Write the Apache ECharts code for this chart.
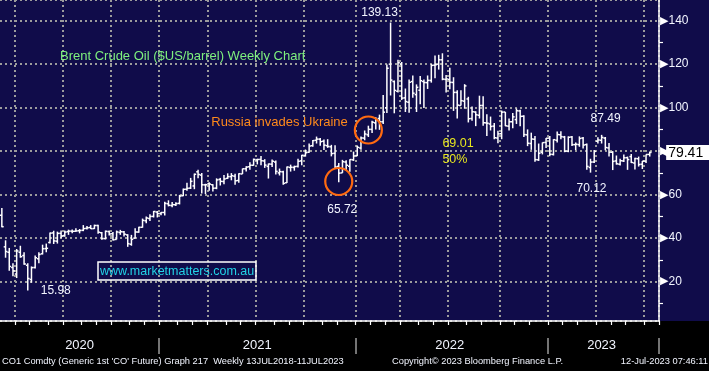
<!DOCTYPE html>
<html><head><meta charset="utf-8">
<script src="https://cdn.jsdelivr.net/npm/echarts@6/dist/echarts.min.js"></script>
<style>html,body{margin:0;padding:0;background:#000}#c{width:709px;height:371px}</style>
</head><body><div id="c"></div>
<script>
// ---- data: Brent CO1 weekly OHLC, weeks ending Fri from 2020-03-06 ----
const startDate = '2020-03-06';
const weekCount = 178;           // categories (2 empty weeks after last bar)
const years = [2020, 2021, 2022, 2023];

const open = [50.5,36.0,33.5,26.5,23.5,33.5,32.0,27.5,21.0,26.5,30.5,32.8,35.2,38.0,42.4,38.6,42.2,41.2,43.0,43.2,43.2,43.4,43.6,44.5,44.9,44.4,45.8,42.5,39.8,43.0,42.0,39.4,42.6,42.9,41.5,37.2,40.0,42.8,45.0,48.0,49.0,50.0,52.0,
51.3,51.8,55.8,55.0,55.3,56.0,59.5,62.5,63.0,64.0,70.5,69.0,64.5,65.0,64.5,63.0,67.0,66.0,67.5,68.3,68.5,66.5,69.5,71.9,72.8,73.5,76.0,76.2,75.5,73.0,74.0,75.0,70.0,70.5,65.5,72.5,72.5,73.0,75.5,78.0,79.5,82.5,85.0,85.5,84.5,82.5,82.0,79.0,73.0,70.0,75.0,73.0,76.0,
78.0,81.5,86.0,87.5,90.0,93.0,95.0,93.5,100.0,120.0,112.0,107.5,120.0,104.5,102.5,112.0,106.0,108.0,112.0,111.5,112.5,119.5,120.0,122.0,113.0,113.0,111.6,107.0,101.0,103.0,104.0,95.0,98.0,96.5,101.0,93.0,92.5,91.5,86.0,88.0,98.0,91.5,93.5,94.5,98.5,96.0,87.5,83.5,85.5,76.0,79.5,84.0,
86.0,78.5,85.0,87.5,86.5,80.0,86.5,83.0,83.0,86.0,83.0,72.5,75.0,84.5,85.0,86.0,81.5,79.5,75.5,74.0,75.5,77.0,77.5,74.5,76.5,74.0,75.4,78.5];

const high = [53.9,39.0,35.5,28.5,35.0,36.5,33.5,28.5,27.0,32.0,33.5,37.0,37.5,42.6,43.4,43.0,43.5,43.5,43.9,44.0,44.6,44.2,46.0,45.6,46.0,46.2,46.2,42.8,43.5,43.5,42.8,43.5,43.8,43.3,41.8,41.5,44.5,45.2,49.0,49.9,51.0,52.5,52.5,
52.0,56.7,57.4,56.6,56.5,59.9,62.8,65.5,67.7,69.7,71.4,70.0,65.0,65.7,64.8,67.5,67.7,69.0,69.8,69.9,69.6,69.8,72.0,73.1,74.9,76.6,76.5,77.8,76.3,74.3,76.2,75.7,72.0,71.0,72.9,73.8,73.3,76.5,78.3,80.75,83.5,85.1,86.7,86.1,85.3,85.5,82.9,82.7,74.5,76.0,75.8,76.3,79.8,
82.6,86.7,89.5,91.7,94.0,95.6,96.8,105.8,119.8,139.13,112.5,122.0,121.0,108.8,113.0,114.8,110.7,114.5,113.0,114.8,120.0,124.0,124.3,125.0,115.0,118.3,114.0,108.0,108.0,110.8,105.0,100.5,98.3,105.5,105.3,97.0,95.9,93.0,89.4,98.7,98.0,95.0,97.5,99.6,99.0,96.5,90.0,88.5,87.0,83.5,84.0,86.0,
87.0,85.5,89.0,89.1,87.0,86.8,87.0,84.0,86.8,86.5,83.5,76.5,80.5,86.4,87.49,86.5,83.7,80.0,78.0,76.5,78.5,77.5,78.7,77.0,77.5,75.5,78.5,79.8];

const low = [45.0,31.0,25.0,22.5,21.65,31.0,27.8,15.98,19.5,26.0,28.5,32.5,33.5,37.5,37.3,37.5,40.0,40.6,41.5,42.3,42.9,42.2,43.2,44.0,44.2,44.2,42.0,39.3,39.4,41.2,38.9,39.4,41.5,40.8,36.0,36.5,39.8,42.5,44.8,46.9,47.9,49.5,49.5,
50.5,50.4,54.6,54.2,54.8,55.5,59.3,61.8,62.6,62.5,67.5,60.5,60.3,61.8,61.5,62.5,64.2,64.8,67.2,66.6,64.6,65.5,69.5,70.6,71.5,73.3,73.9,73.5,72.3,67.4,72.7,69.3,68.8,64.6,65.3,70.6,71.0,72.5,73.5,77.5,79.3,82.0,83.5,82.5,80.5,81.5,77.6,72.2,65.72,70.0,71.2,70.5,75.5,
77.7,80.6,85.0,86.5,88.3,90.0,89.8,92.5,97.5,105.6,97.4,107.0,103.5,98.0,97.6,104.5,98.0,101.6,99.8,108.6,111.5,113.5,117.5,112.6,107.0,108.5,98.5,95.0,101.0,99.5,93.2,94.0,91.5,95.0,91.7,87.0,89.5,85.5,83.6,85.5,91.5,89.5,90.5,92.5,91.5,86.5,82.3,80.6,75.1,75.5,78.5,81.5,
77.6,78.0,84.0,85.5,79.5,79.5,82.4,80.5,82.0,81.2,71.4,70.12,74.5,83.5,83.5,80.4,77.5,71.3,73.8,73.4,75.0,71.4,74.6,71.6,72.9,71.8,74.5,77.5];

const close = [45.27,33.85,26.98,24.93,34.11,31.48,28.08,21.44,26.44,30.97,32.50,35.13,35.33,42.30,38.73,42.19,41.02,42.80,43.24,43.14,43.34,43.52,44.40,44.80,44.35,45.81,42.66,39.83,43.15,41.92,39.27,42.85,42.93,41.77,37.46,39.45,42.78,44.96,48.18,49.25,49.97,52.26,51.29,
51.80,55.99,55.10,55.41,55.88,59.34,62.43,62.91,66.13,69.36,69.22,64.53,64.57,64.86,62.95,66.77,66.11,67.25,68.28,68.71,66.44,69.63,71.89,72.69,73.51,76.18,76.17,75.55,73.59,74.10,75.41,70.70,70.59,65.18,72.70,72.61,72.92,75.34,78.09,79.28,82.39,84.86,85.53,84.38,82.74,82.17,78.89,72.72,69.88,75.15,73.52,76.14,77.78,
81.75,86.06,87.89,90.03,93.27,94.44,93.54,97.93,118.11,112.67,107.93,120.65,104.39,102.78,111.70,106.65,109.34,112.39,111.55,112.55,119.43,119.72,122.01,113.12,113.12,111.63,107.02,101.16,103.20,110.01,94.92,98.15,96.72,100.99,93.02,92.84,91.35,86.15,87.96,97.92,91.63,93.50,95.77,98.57,95.99,87.62,83.63,85.57,76.10,79.04,83.92,85.91,
78.57,85.28,87.63,86.66,79.94,86.39,83.00,83.16,85.83,82.78,72.97,74.99,79.89,85.12,86.31,81.66,79.54,75.30,74.17,75.58,76.95,76.13,74.79,76.61,73.85,75.41,78.47,79.41];

// annotation anchors (category index, value)
const peakIdx = 105, covidLowIdx = 7, dec21LowIdx = 91, apr23HighIdx = 162, mar23LowIdx = 159;
const circleMarks = [[99, 89.72], [91, 66.04]];
const russiaText = 'Russia invades Ukraine';
const russiaAnchor = [75, 93.4];
const retraceText = ['69.01', '50%'];
const retraceAnchor = [119, 79.9];

const titleText = 'Brent Crude Oil ($US/barrel) Weekly Chart';
const siteText = 'www.marketmatters.com.au';
const footerLeft = "CO1 Comdty (Generic 1st 'CO' Future) Graph 217  Weekly 13JUL2018-11JUL2023";
const footerMid = 'Copyright\u00a9 2023 Bloomberg Finance L.P.';
const footerRight = '12-Jul-2023 07:46:11';

// ---- build ----
const dates = [];
(function(){ const t0 = Date.parse(startDate + 'T00:00:00Z');
  for (let i = 0; i < weekCount; i++) dates.push(new Date(t0 + i * 7 * 864e5).toISOString().slice(0, 10)); })();
const mon = i => +dates[i].slice(5, 7);
const yr = i => +dates[i].slice(0, 4);
const monthStart = i => i > 0 && mon(i) !== mon(i - 1);
const quarterStart = i => monthStart(i) && (mon(i) - 1) % 3 === 0;
const yearStart = i => monthStart(i) && mon(i) === 1;
const yearLabelAt = {};
years.forEach(y => {
  const idx = dates.map((d, i) => i).filter(i => yr(i) === y);
  yearLabelAt[dates[idx[Math.floor((idx.length - 1) / 2)]]] = String(y);
});

const ohlc = open.map((o, i) => [i, o, high[i], low[i], close[i]]);
const last = close[close.length - 1];
const FONT = 'Liberation Sans';
const WHITE = '#f2f5ff';
const gridLine = { color: '#9c9c9c', width: 2, type: [2, 3] };

function textMark(coord, text, offset, color, size, extra) {
  return Object.assign({ coord: coord, symbol: 'circle', symbolSize: 1, itemStyle: { color: 'rgba(0,0,0,0)' },
    label: Object.assign({ show: true, position: 'inside', offset: offset, formatter: text, color: color,
      fontSize: size, fontFamily: FONT }, extra || {}) });
}

const markPoints = [
  textMark([peakIdx, high[peakIdx]], high[peakIdx].toFixed(2), [-11, -10], WHITE, 12),
  textMark([dec21LowIdx, low[dec21LowIdx]], low[dec21LowIdx].toFixed(2), [3.5, 27], WHITE, 12),
  textMark([covidLowIdx, low[covidLowIdx]], low[covidLowIdx].toFixed(2), [28, 0], WHITE, 12),
  textMark([apr23HighIdx, high[apr23HighIdx]], high[apr23HighIdx].toFixed(2), [4, -16], WHITE, 12),
  textMark([mar23LowIdx, low[mar23LowIdx]], low[mar23LowIdx].toFixed(2), [1, 16.5], WHITE, 12),
  textMark(russiaAnchor, russiaText, [0, 0], '#ff8a1c', 13),
  textMark(retraceAnchor, retraceText.join('\n'), [0, 0], '#e6e61e', 12.5, { align: 'left', lineHeight: 15.5 }),
  // last-price tag, anchored at the last category slot and pushed onto the price axis
  textMark([weekCount - 1, last], '{a|\u25C0}{b|' + last.toFixed(2) + '}', [3, 0], '#000', 14, {
    align: 'left', verticalAlign: 'middle',
    rich: { a: { color: '#ffffff', fontSize: 16, fontFamily: 'DejaVu Sans', lineHeight: 14, width: 6 },
            b: { backgroundColor: '#ffffff', color: '#000000', fontSize: 14, fontFamily: FONT, padding: [1, 9, 0, 2], lineHeight: 14 } } })
].concat(circleMarks.map(c => ({ coord: c, symbol: 'circle', symbolSize: 27, label: { show: false },
  itemStyle: { color: 'rgba(0,0,0,0)', borderColor: '#ff6a10', borderWidth: 2.2 } })));

const chart = echarts.init(document.getElementById('c'));
chart.setOption({
  animation: false,
  backgroundColor: '#100c4a',
  graphic: [{ type: 'rect', left: 0, top: 321, shape: { width: 709, height: 50 }, style: { fill: '#000' }, z: -10, silent: true }],
  title: [
    { text: titleText, left: 60, top: 50, padding: 0, textStyle: { color: '#7ef07e', fontSize: 13, fontWeight: 'normal', fontFamily: FONT } },
    { text: siteText, left: 98, top: 262, padding: [3, 2, 2, 2], borderColor: '#ffffff', borderWidth: 1.5,
      textStyle: { color: '#22d3e6', fontSize: 12.5, fontWeight: 'normal', fontFamily: FONT } },
    { text: footerLeft, left: 2, top: 357, padding: 0, textStyle: { color: WHITE, fontSize: 9.3, fontWeight: 'normal', fontFamily: FONT } },
    { text: footerMid, left: 392, top: 357, padding: 0, textStyle: { color: WHITE, fontSize: 9.3, fontWeight: 'normal', fontFamily: FONT } },
    { text: footerRight, right: 1, top: 357, padding: 0, textStyle: { color: WHITE, fontSize: 9.3, fontWeight: 'normal', fontFamily: FONT } }
  ],
  grid: { left: -2, right: 50, top: 0, bottom: 50, show: true, backgroundColor: '#100c4a', borderWidth: 0 },
  xAxis: [
    { type: 'category', data: dates, boundaryGap: true, position: 'bottom',
      axisLine: { show: true, onZero: false, lineStyle: { color: '#ffffff', width: 1.5 } },
      axisTick: { show: true, interval: i => monthStart(i), length: 4, lineStyle: { color: '#ffffff', width: 1.2 } },
      axisLabel: { show: true, interval: i => yearLabelAt[dates[i]] !== undefined, formatter: v => yearLabelAt[v] || '',
        color: WHITE, fontSize: 13, fontFamily: FONT, margin: 18 },
      splitLine: { show: true, interval: i => quarterStart(i), lineStyle: gridLine } },
    { type: 'category', data: dates, boundaryGap: true, position: 'bottom', offset: 33,
      axisLine: { show: false },
      axisTick: { show: true, inside: true, interval: i => yearStart(i), length: 16, lineStyle: { color: '#9a9a9a', width: 1.5 } },
      axisLabel: { show: false }, splitLine: { show: false } }
  ],
  yAxis: {
    type: 'value', position: 'right', min: 1.9, max: 149.5, splitNumber: 7,
    axisLine: { show: true, lineStyle: { color: '#ffffff', width: 1.5 } },
    axisTick: { show: false },
    minorTick: { show: true, splitNumber: 2, length: 4, lineStyle: { color: '#ffffff', width: 1.2 } },
    splitLine: { show: true, lineStyle: gridLine },
    axisLabel: { margin: 1, showMinLabel: false, showMaxLabel: false,
      formatter: v => (Math.abs(v % 20) < 1e-6 ? '{a|\u25B6}{b|' + v + '}' : ''),
      rich: { a: { color: '#ffffff', fontSize: 11, fontFamily: 'DejaVu Sans', padding: [0, 0, 0, 0] },
              b: { color: WHITE, fontSize: 12, fontFamily: FONT } } }
  },
  series: [
    { type: 'custom', name: 'CO1', data: ohlc, encode: { x: 0, y: [1, 2, 3, 4] }, clip: true,
      renderItem: function (params, api) {
        const x = api.value(0);
        const o = api.coord([x, api.value(1)]), h = api.coord([x, api.value(2)]);
        const l = api.coord([x, api.value(3)]), c = api.coord([x, api.value(4)]);
        const t = api.size([1, 0])[0] * 0.5;
        const st = { stroke: '#ffffff', lineWidth: 1.5 };
        return { type: 'group', children: [
          { type: 'line', shape: { x1: h[0], y1: h[1], x2: l[0], y2: l[1] }, style: st },
          { type: 'line', shape: { x1: o[0] - t, y1: o[1], x2: o[0], y2: o[1] }, style: st },
          { type: 'line', shape: { x1: c[0], y1: c[1], x2: c[0] + t, y2: c[1] }, style: st }
        ] };
      } },
    { type: 'scatter', name: 'notes', data: [], silent: true, clip: false, z: 5,
      markPoint: { silent: true, data: markPoints } }
  ]
});
</script></body></html>
